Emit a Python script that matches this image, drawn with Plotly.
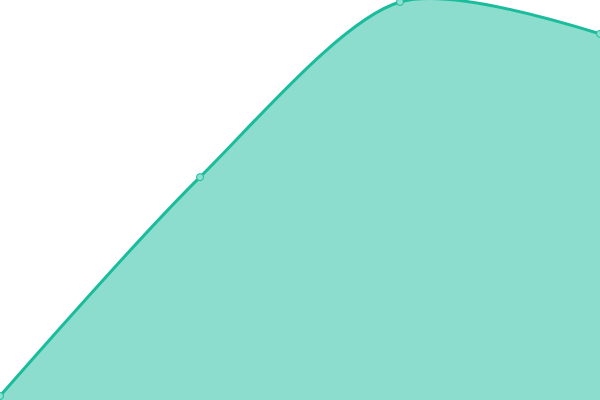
import plotly.graph_objects as go

# series
x_values = [0, 1, 2, 3]
y_values = [1, 56, 100, 92]

fig = go.Figure()
fig.add_trace(go.Scatter(
    x=x_values,
    y=y_values,
    mode="lines+markers",
    line=dict(color="#1abc9c", width=3, shape="spline", smoothing=0.8),
    fill="tozeroy",
    fillcolor="rgba(26,188,156,0.5)",
    marker=dict(size=7, color="#8ce0cf", line=dict(color="#1abc9c", width=1)),
    hoverinfo="skip",
    cliponaxis=False,
))

fig.update_layout(
    width=600,
    height=400,
    margin=dict(l=0, r=0, t=0, b=0),
    paper_bgcolor="white",
    plot_bgcolor="white",
    showlegend=False,
    xaxis=dict(visible=False, range=[0, 3], fixedrange=True),
    yaxis=dict(visible=False, range=[0, 100.5], fixedrange=True),
)

# the page body has a default 8px margin, drop it so the plot sits at 0,0
fig.write_html("out.html", config={"displayModeBar": False},
               post_script="document.body.style.margin='0';")
